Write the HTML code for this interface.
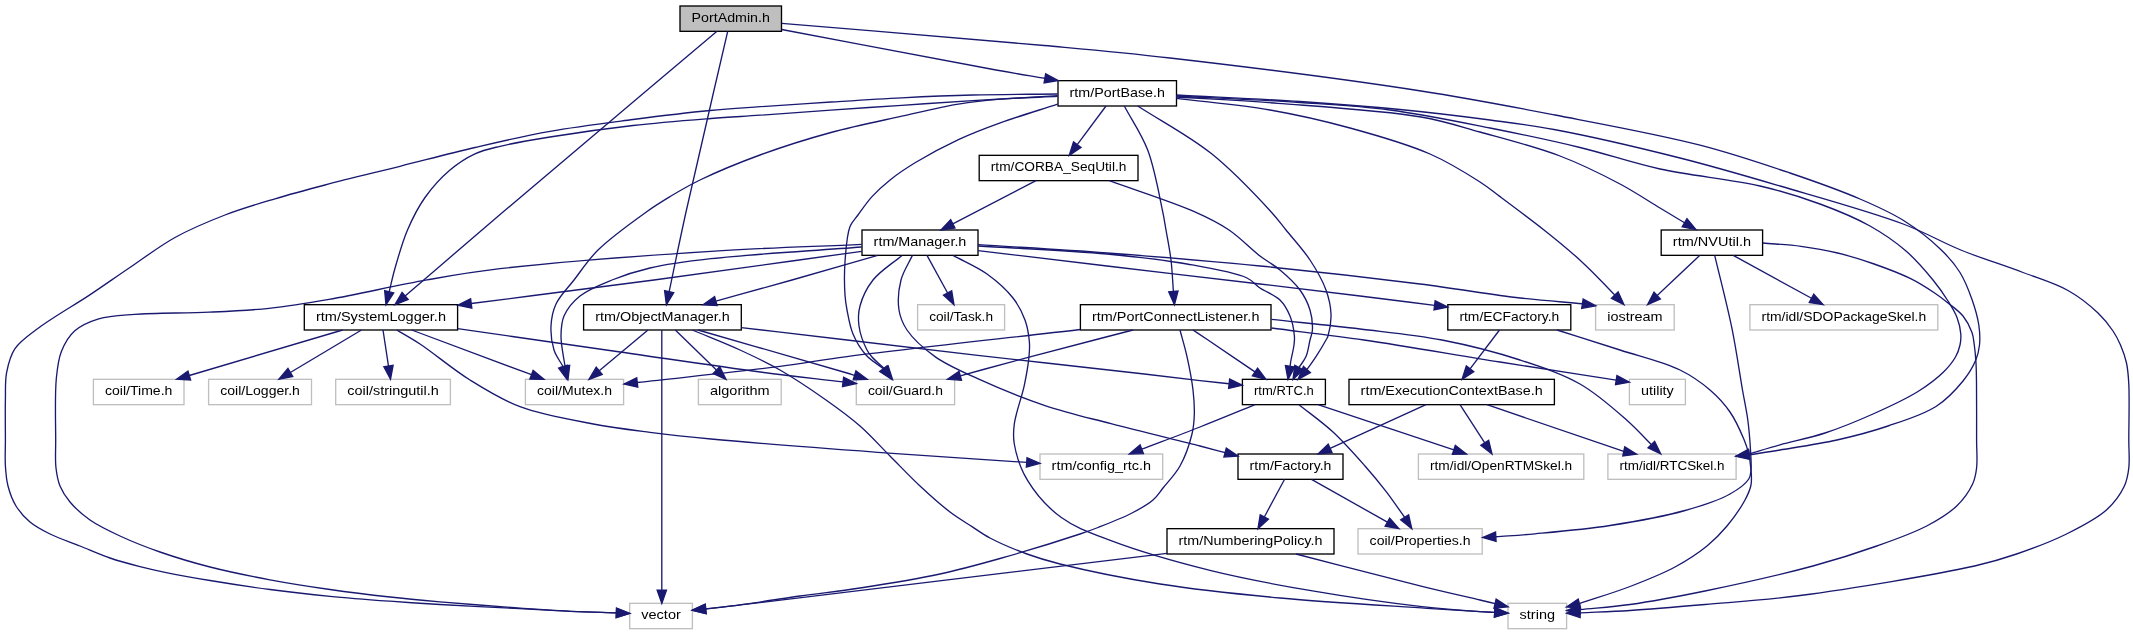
<!DOCTYPE html>
<html><head><meta charset="utf-8"><title>PortAdmin.h include graph</title>
<style>html,body{margin:0;padding:0;background:#fff}svg{display:block;will-change:transform}text{font-family:"Liberation Sans",sans-serif;font-size:13.6px;fill:#000}</style></head><body>
<svg width="2133" height="635" viewBox="0 0 2133 635">
<rect width="2133" height="635" fill="#fff"/>
<g stroke-width="1.333">
<rect x="680.00" y="6.00" width="101.50" height="25.33" fill="#bfbfbf" stroke="#000"/>
<rect x="1058.00" y="80.67" width="118.50" height="25.33" fill="#fff" stroke="#000"/>
<rect x="979.20" y="155.33" width="158.80" height="25.33" fill="#fff" stroke="#000"/>
<rect x="862.00" y="230.00" width="116.00" height="25.33" fill="#fff" stroke="#000"/>
<rect x="1661.20" y="230.00" width="101.40" height="25.33" fill="#fff" stroke="#000"/>
<rect x="304.30" y="304.67" width="153.30" height="25.33" fill="#fff" stroke="#000"/>
<rect x="583.60" y="304.67" width="157.70" height="25.33" fill="#fff" stroke="#000"/>
<rect x="917.60" y="304.67" width="87.00" height="25.33" fill="#fff" stroke="#bfbfbf"/>
<rect x="1080.40" y="304.67" width="190.60" height="25.33" fill="#fff" stroke="#000"/>
<rect x="1447.80" y="304.67" width="123.00" height="25.33" fill="#fff" stroke="#000"/>
<rect x="1595.60" y="304.67" width="78.60" height="25.33" fill="#fff" stroke="#bfbfbf"/>
<rect x="1749.90" y="304.67" width="187.90" height="25.33" fill="#fff" stroke="#bfbfbf"/>
<rect x="93.40" y="379.33" width="90.60" height="25.33" fill="#fff" stroke="#bfbfbf"/>
<rect x="208.60" y="379.33" width="102.90" height="25.33" fill="#fff" stroke="#bfbfbf"/>
<rect x="335.70" y="379.33" width="114.70" height="25.33" fill="#fff" stroke="#bfbfbf"/>
<rect x="525.40" y="379.33" width="98.20" height="25.33" fill="#fff" stroke="#bfbfbf"/>
<rect x="698.40" y="379.33" width="82.80" height="25.33" fill="#fff" stroke="#bfbfbf"/>
<rect x="856.30" y="379.33" width="98.30" height="25.33" fill="#fff" stroke="#bfbfbf"/>
<rect x="1242.40" y="379.33" width="83.00" height="25.33" fill="#fff" stroke="#000"/>
<rect x="1349.00" y="379.33" width="205.40" height="25.33" fill="#fff" stroke="#000"/>
<rect x="1629.40" y="379.33" width="56.00" height="25.33" fill="#fff" stroke="#bfbfbf"/>
<rect x="1040.00" y="454.00" width="122.70" height="25.33" fill="#fff" stroke="#bfbfbf"/>
<rect x="1238.00" y="454.00" width="105.00" height="25.33" fill="#fff" stroke="#000"/>
<rect x="1418.40" y="454.00" width="165.40" height="25.33" fill="#fff" stroke="#bfbfbf"/>
<rect x="1607.90" y="454.00" width="128.20" height="25.33" fill="#fff" stroke="#bfbfbf"/>
<rect x="1167.00" y="528.67" width="167.00" height="25.33" fill="#fff" stroke="#000"/>
<rect x="1358.00" y="528.67" width="124.20" height="25.33" fill="#fff" stroke="#bfbfbf"/>
<rect x="629.70" y="603.33" width="62.70" height="25.33" fill="#fff" stroke="#bfbfbf"/>
<rect x="1508.00" y="603.33" width="58.60" height="25.33" fill="#fff" stroke="#bfbfbf"/>
</g>
<g text-anchor="middle">
<text x="730.75" y="22.00" textLength="78.30" lengthAdjust="spacingAndGlyphs">PortAdmin.h</text>
<text x="1117.25" y="97.00" textLength="95.30" lengthAdjust="spacingAndGlyphs">rtm/PortBase.h</text>
<text x="1058.60" y="171.00" textLength="135.60" lengthAdjust="spacingAndGlyphs">rtm/CORBA_SeqUtil.h</text>
<text x="920.00" y="246.00" textLength="92.80" lengthAdjust="spacingAndGlyphs">rtm/Manager.h</text>
<text x="1711.90" y="246.00" textLength="78.20" lengthAdjust="spacingAndGlyphs">rtm/NVUtil.h</text>
<text x="380.95" y="321.00" textLength="130.10" lengthAdjust="spacingAndGlyphs">rtm/SystemLogger.h</text>
<text x="662.45" y="321.00" textLength="134.50" lengthAdjust="spacingAndGlyphs">rtm/ObjectManager.h</text>
<text x="961.10" y="321.00" textLength="63.80" lengthAdjust="spacingAndGlyphs">coil/Task.h</text>
<text x="1175.70" y="321.00" textLength="167.40" lengthAdjust="spacingAndGlyphs">rtm/PortConnectListener.h</text>
<text x="1509.30" y="321.00" textLength="99.80" lengthAdjust="spacingAndGlyphs">rtm/ECFactory.h</text>
<text x="1634.90" y="321.00" textLength="55.40" lengthAdjust="spacingAndGlyphs">iostream</text>
<text x="1843.85" y="321.00" textLength="164.70" lengthAdjust="spacingAndGlyphs">rtm/idl/SDOPackageSkel.h</text>
<text x="138.70" y="395.00" textLength="67.40" lengthAdjust="spacingAndGlyphs">coil/Time.h</text>
<text x="260.05" y="395.00" textLength="79.70" lengthAdjust="spacingAndGlyphs">coil/Logger.h</text>
<text x="393.05" y="395.00" textLength="91.50" lengthAdjust="spacingAndGlyphs">coil/stringutil.h</text>
<text x="574.50" y="395.00" textLength="75.00" lengthAdjust="spacingAndGlyphs">coil/Mutex.h</text>
<text x="739.80" y="395.00" textLength="59.60" lengthAdjust="spacingAndGlyphs">algorithm</text>
<text x="905.45" y="395.00" textLength="75.10" lengthAdjust="spacingAndGlyphs">coil/Guard.h</text>
<text x="1283.90" y="395.00" textLength="59.80" lengthAdjust="spacingAndGlyphs">rtm/RTC.h</text>
<text x="1451.70" y="395.00" textLength="182.20" lengthAdjust="spacingAndGlyphs">rtm/ExecutionContextBase.h</text>
<text x="1657.40" y="395.00" textLength="32.80" lengthAdjust="spacingAndGlyphs">utility</text>
<text x="1101.35" y="470.00" textLength="99.50" lengthAdjust="spacingAndGlyphs">rtm/config_rtc.h</text>
<text x="1290.50" y="470.00" textLength="81.80" lengthAdjust="spacingAndGlyphs">rtm/Factory.h</text>
<text x="1501.10" y="470.00" textLength="142.20" lengthAdjust="spacingAndGlyphs">rtm/idl/OpenRTMSkel.h</text>
<text x="1672.00" y="470.00" textLength="105.00" lengthAdjust="spacingAndGlyphs">rtm/idl/RTCSkel.h</text>
<text x="1250.50" y="545.00" textLength="143.80" lengthAdjust="spacingAndGlyphs">rtm/NumberingPolicy.h</text>
<text x="1420.10" y="545.00" textLength="101.00" lengthAdjust="spacingAndGlyphs">coil/Properties.h</text>
<text x="661.05" y="619.00" textLength="39.50" lengthAdjust="spacingAndGlyphs">vector</text>
<text x="1537.30" y="619.00" textLength="35.40" lengthAdjust="spacingAndGlyphs">string</text>
</g>
<g fill="none" stroke="#191970" stroke-width="1.333">
<path d="M717.00,31.30 C645.67,91.53 560.48,163.07 503.00,212.00 C463.99,245.21 437.74,268.01 405.12,296.02"/>
<path d="M727.70,31.30 C713.80,91.53 696.64,163.89 686.00,212.00 C678.95,243.88 674.77,265.10 669.16,291.66"/>
<path d="M781.70,29.50 C853.13,43.00 949.81,61.72 996.00,70.00 C1018.02,73.94 1028.57,75.52 1044.85,78.27"/>
<path d="M781.70,23.30 C869.13,30.70 972.44,38.92 1044.00,45.50 C1093.63,50.06 1120.89,52.34 1170.00,58.00 C1239.45,66.01 1350.46,80.05 1421.00,91.00 C1472.73,99.03 1509.51,106.21 1555.00,115.00 C1602.44,124.17 1657.63,134.16 1700.00,145.10 C1733.80,153.82 1762.00,163.47 1790.00,173.00 C1814.92,181.48 1839.66,190.24 1860.00,199.00 C1876.33,206.04 1889.66,211.81 1903.20,220.30 C1916.76,228.80 1931.24,240.25 1941.30,250.00 C1949.13,257.59 1954.89,264.27 1960.00,272.50 C1965.13,280.77 1968.82,290.50 1972.00,299.50 C1975.00,308.00 1977.60,316.95 1978.80,325.00 C1979.84,332.01 1980.14,338.85 1979.50,345.00 C1978.94,350.40 1977.98,354.76 1975.80,360.00 C1973.05,366.61 1968.64,374.04 1963.00,381.00 C1956.07,389.56 1947.08,399.37 1936.00,406.50 C1922.91,414.92 1904.41,420.44 1888.00,426.00 C1871.42,431.62 1854.57,436.06 1837.00,440.00 C1818.62,444.12 1796.10,447.33 1780.00,450.00 C1768.19,451.95 1759.50,453.19 1749.25,454.79"/>
<path d="M1057.60,94.00 C1029.27,94.33 999.64,94.31 972.60,95.00 C947.89,95.63 925.32,96.63 901.70,97.80 C878.09,98.97 854.51,100.52 830.90,102.00 C807.27,103.48 781.57,105.17 760.00,106.70 C741.88,107.99 728.44,108.72 710.00,110.50 C687.07,112.71 659.13,116.12 633.00,119.50 C605.83,123.02 576.88,126.49 550.00,131.30 C524.28,135.90 499.95,141.68 475.00,147.50 C449.95,153.34 425.00,160.05 400.00,166.30 C375.00,172.55 347.44,179.11 325.00,185.00 C306.62,189.83 291.61,193.82 275.00,198.80 C258.28,203.81 241.49,208.64 225.00,215.00 C208.15,221.50 190.99,228.65 175.00,237.50 C158.91,246.40 143.52,258.37 128.80,268.30 C115.22,277.45 103.73,285.65 89.80,294.90 C74.02,305.38 52.41,317.61 38.90,327.80 C29.12,335.17 20.41,340.69 15.00,348.70 C10.16,355.87 8.21,364.35 6.60,372.70 C4.94,381.29 5.62,389.72 5.40,399.60 C5.13,411.70 5.40,428.01 5.40,440.00 C5.40,449.62 4.88,457.92 5.40,466.00 C5.86,473.12 6.29,479.44 8.00,486.00 C9.77,492.78 12.31,499.98 16.00,506.00 C19.66,511.98 24.50,517.41 30.00,522.00 C35.76,526.81 42.49,530.28 50.00,534.00 C58.84,538.38 70.00,542.00 80.00,546.00 C90.00,550.00 99.91,554.55 110.00,558.00 C119.91,561.39 130.42,564.14 140.00,566.60 C148.68,568.83 155.43,570.34 165.00,572.30 C177.79,574.92 193.90,577.83 210.00,580.50 C228.54,583.58 249.98,586.86 270.00,589.50 C289.98,592.13 309.98,594.35 330.00,596.30 C349.98,598.25 370.91,599.79 390.00,601.20 C407.42,602.49 421.68,603.43 440.00,604.50 C462.34,605.81 491.34,607.10 514.40,608.30 C534.45,609.35 552.82,610.51 570.60,611.30 C586.64,612.01 601.12,612.38 616.38,612.92"/>
<path d="M1057.60,95.70 C1029.27,97.33 999.65,98.92 972.60,100.60 C947.89,102.13 925.32,103.72 901.70,105.30 C878.09,106.88 854.51,108.45 830.90,110.10 C807.27,111.75 781.46,113.71 760.00,115.20 C742.16,116.44 729.21,117.07 711.00,118.50 C688.00,120.31 659.37,122.49 633.00,125.50 C605.73,128.61 574.14,133.08 550.00,137.00 C531.19,140.05 513.73,142.97 500.00,146.30 C490.16,148.68 483.08,150.06 475.00,153.80 C466.37,157.79 457.92,163.27 450.00,170.00 C441.15,177.51 432.09,187.48 425.00,197.50 C417.93,207.49 412.43,218.49 407.50,230.00 C402.35,242.03 398.23,257.04 395.00,268.30 C392.50,277.02 391.13,283.94 389.20,291.76"/>
<path d="M1057.60,96.40 C1038.70,97.33 1018.42,97.74 1000.90,99.20 C985.69,100.47 973.53,101.72 958.40,104.20 C940.80,107.09 921.63,111.80 901.70,116.20 C879.39,121.13 854.38,126.08 830.90,132.50 C807.14,138.99 782.48,146.77 760.00,155.00 C738.99,162.69 716.39,172.08 700.00,180.00 C688.10,185.75 679.28,191.04 670.00,196.60 C661.65,201.61 655.71,205.26 646.70,211.70 C633.24,221.32 610.84,237.27 598.00,250.00 C587.89,260.02 581.36,270.50 574.00,280.00 C567.50,288.39 559.82,295.76 556.00,304.00 C552.69,311.15 551.37,318.47 551.00,326.00 C550.61,333.79 551.72,342.92 554.00,350.00 C556.02,356.27 560.05,361.10 563.08,366.66"/>
<path d="M1057.60,104.20 C1038.70,110.33 1018.34,116.29 1000.90,122.60 C985.61,128.13 972.39,133.09 958.40,139.60 C944.05,146.28 928.10,154.91 915.90,162.30 C906.14,168.21 898.01,173.66 890.40,179.70 C883.55,185.14 877.48,190.59 872.00,196.60 C866.73,202.38 861.96,209.53 858.00,215.00 C854.91,219.27 852.04,221.37 850.00,226.60 C846.75,234.93 845.82,250.38 845.00,262.00 C844.22,273.17 844.41,286.16 845.00,295.00 C845.40,300.99 845.94,304.45 847.00,310.00 C848.36,317.10 849.83,326.50 853.00,334.00 C856.17,341.50 860.74,349.12 866.00,355.00 C870.98,360.57 877.61,364.13 883.42,368.69"/>
<path d="M1106.00,106.00 L1077.26,144.61"/>
<path d="M1124.30,106.00 C1132.10,120.67 1141.48,133.66 1147.70,150.00 C1154.72,168.44 1159.63,197.16 1162.70,211.70 C1164.36,219.57 1164.81,223.15 1166.00,230.00 C1167.52,238.77 1169.77,249.86 1171.00,260.00 C1172.25,270.32 1172.59,280.94 1173.39,291.41"/>
<path d="M1137.70,106.00 C1162.13,121.77 1188.60,135.46 1211.00,153.30 C1232.95,170.78 1257.92,197.45 1271.00,211.70 C1277.95,219.27 1280.44,223.13 1286.00,230.00 C1293.09,238.75 1303.20,249.68 1310.00,260.00 C1316.40,269.71 1322.49,280.31 1326.00,290.00 C1328.98,298.23 1330.73,306.15 1331.00,314.00 C1331.26,321.47 1329.34,331.68 1328.00,336.00 C1327.40,337.94 1326.97,338.24 1326.00,340.00 C1323.98,343.67 1319.35,351.47 1316.00,356.60 C1312.98,361.23 1309.95,365.19 1306.92,369.49"/>
<path d="M1176.50,98.30 C1207.67,102.20 1240.17,104.79 1270.00,110.00 C1297.83,114.86 1323.50,120.73 1350.00,128.00 C1376.84,135.36 1406.88,143.89 1430.00,154.00 C1449.08,162.35 1467.27,173.83 1480.00,182.00 C1488.37,187.37 1492.07,190.70 1500.00,196.60 C1511.85,205.42 1530.61,219.36 1544.00,230.00 C1555.63,239.24 1566.24,247.87 1576.00,256.60 C1584.73,264.41 1593.03,272.72 1600.00,279.70 C1605.58,285.29 1609.84,289.95 1614.77,295.08"/>
<path d="M1176.00,97.00 C1209.90,99.10 1240.93,100.40 1277.70,103.30 C1321.41,106.74 1383.85,110.54 1421.00,117.00 C1445.16,121.20 1458.91,126.16 1480.00,132.00 C1504.71,138.84 1535.56,146.69 1560.00,156.00 C1581.76,164.29 1602.24,174.56 1620.00,184.00 C1634.91,191.92 1648.28,200.97 1660.00,208.00 C1669.18,213.51 1676.38,217.83 1684.57,222.74"/>
<path d="M1176.50,96.00 C1217.67,98.17 1262.10,99.92 1300.00,102.50 C1332.39,104.70 1359.31,105.97 1390.00,110.00 C1422.55,114.28 1457.60,121.58 1490.00,128.00 C1520.85,134.12 1550.97,140.46 1580.00,147.50 C1607.54,154.18 1631.69,162.80 1660.00,169.00 C1691.32,175.86 1731.08,179.23 1760.00,186.00 C1782.73,191.32 1801.11,197.04 1820.00,204.00 C1837.64,210.50 1855.06,217.63 1870.00,226.00 C1883.38,233.50 1895.30,241.73 1906.00,251.00 C1916.17,259.82 1925.55,270.88 1933.00,280.00 C1939.01,287.36 1943.80,294.30 1948.00,301.00 C1951.58,306.72 1954.85,311.85 1957.00,317.50 C1959.04,322.86 1960.42,329.03 1960.80,334.00 C1961.11,338.01 1960.81,341.31 1960.00,345.00 C1959.13,348.98 1957.79,352.96 1955.50,357.00 C1952.69,361.94 1948.62,366.99 1943.50,372.00 C1936.88,378.48 1928.05,385.23 1918.00,391.50 C1905.42,399.35 1888.40,407.12 1873.00,414.00 C1857.41,420.97 1840.90,427.79 1825.00,433.00 C1809.91,437.95 1793.56,441.04 1780.00,444.80 C1768.73,447.93 1759.44,450.83 1749.16,453.84"/>
<path d="M1176.50,95.00 C1217.67,97.17 1261.02,98.92 1300.00,101.50 C1335.11,103.83 1367.57,106.31 1400.00,109.50 C1430.82,112.53 1462.58,116.37 1490.00,120.00 C1513.17,123.07 1529.19,124.86 1554.00,129.50 C1589.06,136.06 1640.54,148.02 1680.00,158.00 C1715.38,166.95 1745.00,175.70 1780.00,186.00 C1819.00,197.47 1870.16,211.50 1903.20,224.00 C1926.33,232.75 1941.07,241.99 1960.80,250.00 C1980.98,258.19 2004.00,265.26 2023.00,272.50 C2039.27,278.69 2054.93,283.16 2068.00,290.50 C2079.49,296.96 2090.05,305.45 2098.00,313.00 C2104.28,318.97 2109.08,325.18 2113.00,331.00 C2116.23,335.79 2118.32,339.94 2120.50,345.00 C2122.88,350.53 2125.12,356.69 2126.50,363.00 C2127.96,369.66 2128.33,375.30 2128.80,384.00 C2129.57,398.16 2128.80,424.54 2128.80,440.00 C2128.80,450.93 2129.79,459.75 2128.80,468.00 C2127.99,474.71 2127.30,479.87 2124.40,486.00 C2120.71,493.80 2114.48,502.70 2106.40,510.00 C2096.33,519.09 2080.85,526.87 2066.50,534.00 C2051.08,541.67 2032.65,548.51 2016.60,554.00 C2002.13,558.95 1993.55,561.71 1974.60,566.00 C1936.45,574.64 1849.51,588.98 1800.00,595.50 C1763.65,600.29 1734.81,601.90 1705.00,604.50 C1678.53,606.81 1652.48,609.08 1630.00,610.50 C1611.67,611.66 1596.69,612.05 1580.03,612.82"/>
<path d="M1036.00,180.70 L952.83,223.86"/>
<path d="M1109.30,180.70 C1137.63,191.03 1172.46,202.01 1194.30,211.70 C1208.68,218.08 1218.12,222.69 1229.00,230.00 C1240.05,237.42 1250.65,248.83 1260.00,256.00 C1267.26,261.57 1273.56,264.60 1280.00,270.00 C1286.93,275.81 1294.88,282.89 1300.00,290.00 C1304.55,296.32 1307.94,303.15 1310.00,310.00 C1311.95,316.50 1312.72,324.50 1312.40,330.00 C1312.17,333.93 1310.90,336.25 1310.00,340.00 C1308.84,344.84 1308.06,351.80 1306.00,356.60 C1304.21,360.78 1301.31,363.85 1298.96,367.47"/>
<path d="M861.70,244.30 C811.47,246.63 765.42,247.79 711.00,251.30 C646.54,255.45 552.02,262.57 500.00,268.70 C469.28,272.32 453.07,275.31 427.00,279.90 C396.68,285.24 357.73,294.41 329.00,299.40 C306.61,303.29 289.00,306.16 269.00,308.30 C249.17,310.42 230.48,311.22 209.50,312.20 C185.98,313.30 155.00,312.74 134.60,314.30 C120.43,315.38 109.21,315.60 98.70,318.80 C89.66,321.55 81.09,325.16 74.80,330.80 C68.74,336.24 64.38,343.95 61.30,351.70 C58.07,359.84 57.35,367.83 56.30,378.70 C54.73,394.95 55.69,423.52 55.70,440.00 C55.71,451.14 55.05,459.74 56.00,468.00 C56.77,474.71 57.69,480.36 60.00,486.00 C62.34,491.70 65.64,496.81 70.00,502.00 C75.20,508.20 82.28,514.59 90.00,520.00 C98.67,526.08 109.13,530.95 120.00,536.00 C132.23,541.69 145.81,547.04 160.00,552.00 C175.62,557.46 192.48,562.51 210.00,567.00 C229.00,571.87 249.95,576.04 270.00,579.80 C289.95,583.54 309.97,586.63 330.00,589.50 C349.97,592.36 370.90,594.89 390.00,597.00 C407.41,598.92 421.68,600.19 440.00,601.80 C462.34,603.76 491.33,606.05 514.40,607.70 C534.44,609.14 552.82,610.42 570.60,611.30 C586.63,612.10 601.12,612.38 616.38,612.92"/>
<path d="M861.70,251.30 C792.47,260.87 721.04,271.06 654.00,280.00 C591.15,288.38 532.15,295.67 471.22,303.50"/>
<path d="M861.70,247.00 C811.47,250.90 750.00,254.22 711.00,258.70 C686.08,261.56 667.80,263.86 650.00,268.00 C635.70,271.33 623.94,275.16 612.00,280.00 C600.68,284.58 588.30,289.29 580.00,296.00 C572.97,301.68 567.11,308.89 564.00,316.00 C561.24,322.32 561.09,329.02 561.00,336.00 C560.91,343.63 563.19,354.56 564.00,360.00 C564.42,362.81 564.74,364.26 565.11,366.38"/>
<path d="M877.70,255.30 C849.13,263.53 819.74,272.15 792.00,280.00 C765.89,287.39 741.23,294.09 715.85,301.13"/>
<path d="M902.00,255.40 C892.33,263.60 880.15,270.89 873.00,280.00 C866.75,287.97 862.18,297.68 860.00,306.00 C858.19,312.91 858.06,319.12 859.00,326.00 C860.06,333.73 864.21,344.53 867.00,350.00 C868.63,353.19 869.80,354.49 872.00,357.00 C875.09,360.54 880.28,364.80 884.42,368.69"/>
<path d="M927.00,255.40 L947.60,293.01"/>
<path d="M912.40,255.40 C908.60,263.60 903.26,271.17 901.00,280.00 C898.62,289.30 897.60,301.15 899.00,310.00 C900.19,317.49 902.49,323.35 907.00,330.00 C913.03,338.90 924.05,348.80 935.00,356.60 C947.22,365.30 961.69,371.38 977.70,378.70 C997.25,387.64 1021.88,397.76 1044.30,405.30 C1066.32,412.71 1087.13,417.42 1111.00,423.70 C1138.49,430.94 1179.43,440.72 1200.00,446.00 C1210.94,448.81 1216.74,450.40 1225.11,452.61"/>
<path d="M953.00,255.40 C964.33,261.60 976.82,266.69 987.00,274.00 C996.72,280.99 1006.46,289.61 1013.00,298.00 C1018.51,305.06 1022.26,312.45 1025.00,320.00 C1027.59,327.14 1028.84,335.39 1029.40,342.00 C1029.85,347.34 1029.54,350.94 1029.00,356.60 C1028.24,364.59 1026.45,375.07 1024.30,385.30 C1021.77,397.29 1015.68,413.14 1014.30,424.00 C1013.32,431.69 1012.97,436.46 1014.30,444.00 C1016.16,454.53 1020.69,469.12 1027.70,480.70 C1035.58,493.73 1047.62,507.44 1061.00,517.30 C1075.13,527.71 1091.15,533.12 1111.00,540.70 C1138.30,551.12 1177.47,562.34 1211.00,570.70 C1244.14,578.97 1276.71,584.80 1311.00,590.70 C1346.95,596.88 1390.91,603.12 1422.00,606.70 C1444.40,609.28 1467.05,610.82 1480.00,611.70 C1486.51,612.14 1489.79,612.19 1494.69,612.44"/>
<path d="M978.00,246.00 C1021.00,248.67 1069.16,250.47 1107.00,254.00 C1136.89,256.79 1162.35,259.60 1187.00,264.00 C1208.54,267.85 1234.65,272.15 1247.00,278.00 C1253.37,281.02 1255.09,284.66 1260.00,288.00 C1265.85,291.99 1274.89,294.98 1280.00,300.00 C1284.59,304.51 1287.61,310.14 1290.00,316.00 C1292.49,322.10 1293.94,330.62 1294.40,336.00 C1294.71,339.57 1294.41,341.64 1294.00,345.00 C1293.47,349.38 1291.70,356.08 1291.00,360.00 C1290.55,362.52 1290.35,364.15 1290.03,366.22"/>
<path d="M978.00,250.60 C1021.00,255.73 1062.16,260.69 1107.00,266.00 C1155.82,271.79 1214.40,278.58 1260.00,284.00 C1296.87,288.38 1329.11,292.21 1360.00,296.00 C1386.68,299.27 1409.71,302.23 1434.57,305.34"/>
<path d="M978.00,244.60 C1021.00,247.40 1062.18,249.64 1107.00,253.00 C1155.84,256.66 1208.46,260.91 1260.00,266.00 C1312.77,271.21 1372.94,278.06 1420.00,284.00 C1457.27,288.70 1490.54,294.59 1520.00,298.00 C1543.21,300.69 1561.62,301.82 1582.43,303.73"/>
<path d="M1699.90,255.30 L1657.20,295.55"/>
<path d="M1733.20,255.30 L1811.51,298.28"/>
<path d="M1714.70,255.30 C1720.47,279.77 1727.24,305.26 1732.00,328.70 C1736.33,349.98 1739.57,373.18 1742.50,390.00 C1744.55,401.77 1746.47,409.97 1747.80,420.00 C1749.13,429.97 1749.98,441.00 1750.50,450.00 C1750.92,457.33 1751.57,464.68 1751.00,470.00 C1750.61,473.62 1750.74,475.96 1748.80,479.00 C1745.67,483.90 1738.07,489.46 1730.00,494.00 C1718.60,500.41 1702.12,505.68 1685.00,510.50 C1663.38,516.59 1635.09,521.61 1610.00,525.50 C1585.08,529.36 1555.99,531.85 1535.00,533.80 C1519.85,535.21 1508.87,535.76 1495.81,536.74"/>
<path d="M1762.80,243.00 C1775.53,244.10 1788.44,244.61 1801.00,246.30 C1813.37,247.96 1825.49,250.08 1837.60,253.00 C1849.86,255.96 1862.02,259.76 1874.10,264.00 C1886.39,268.31 1899.93,273.35 1910.70,278.70 C1919.83,283.24 1928.25,288.77 1935.00,293.30 C1940.11,296.73 1943.58,299.44 1948.00,303.00 C1952.89,306.94 1958.97,311.00 1963.00,316.00 C1966.92,320.87 1970.13,327.24 1972.00,332.50 C1973.53,336.83 1973.67,340.44 1974.30,345.00 C1975.06,350.44 1975.63,356.87 1976.00,363.00 C1976.38,369.36 1976.39,374.28 1976.50,382.50 C1976.69,396.61 1976.59,424.24 1976.60,440.00 C1976.61,450.99 1977.58,460.02 1976.60,468.00 C1975.85,474.13 1975.16,478.50 1972.60,484.00 C1969.32,491.06 1963.57,499.39 1956.70,506.00 C1948.78,513.62 1938.33,519.88 1926.70,526.00 C1912.50,533.48 1894.59,539.66 1876.80,546.00 C1856.94,553.07 1837.12,559.42 1812.90,566.00 C1781.76,574.47 1737.78,584.26 1705.00,591.00 C1677.81,596.59 1652.53,601.34 1630.00,604.50 C1611.70,607.07 1596.67,607.87 1580.00,609.55"/>
<path d="M342.60,330.00 L189.28,375.51"/>
<path d="M361.50,330.00 L290.35,372.47"/>
<path d="M383.00,330.00 L388.49,366.12"/>
<path d="M411.70,330.00 L531.51,374.74"/>
<path d="M457.60,328.60 C511.80,336.40 568.02,344.52 620.20,352.00 C668.64,358.94 719.68,366.67 760.30,372.00 C791.47,376.09 815.47,378.61 843.06,381.91"/>
<path d="M396.70,330.00 C404.47,334.67 410.91,338.01 420.00,344.00 C433.68,353.01 452.97,369.39 470.00,380.00 C486.33,390.18 501.23,399.61 520.00,406.70 C541.64,414.87 570.34,419.62 593.30,424.00 C613.32,427.82 630.73,429.83 650.00,432.30 C669.94,434.85 685.64,436.60 711.00,439.00 C752.87,442.97 823.68,448.31 877.70,452.30 C928.75,456.07 977.03,459.03 1026.70,462.40"/>
<path d="M648.00,330.00 L599.22,370.84"/>
<path d="M661.80,330.00 L661.80,590.07"/>
<path d="M675.30,330.00 L716.45,370.10"/>
<path d="M698.00,330.00 C747.67,344.33 828.74,367.53 847.00,373.00 C851.13,374.24 852.04,374.57 854.57,375.35"/>
<path d="M692.30,330.00 C708.20,336.67 724.91,343.07 740.00,350.00 C754.03,356.44 766.43,362.22 780.00,370.00 C795.04,378.63 811.99,390.10 826.00,400.00 C838.37,408.74 849.31,416.64 860.00,426.00 C870.64,435.32 880.00,446.00 890.00,456.00 C900.00,466.00 909.83,476.53 920.00,486.00 C929.84,495.16 940.56,504.82 950.00,512.00 C957.70,517.86 965.01,522.07 972.00,526.60 C978.28,530.67 982.75,534.17 990.00,538.00 C999.97,543.27 1014.90,549.57 1027.00,554.00 C1038.20,558.10 1045.92,560.47 1060.00,564.00 C1084.22,570.08 1125.03,578.47 1160.00,584.00 C1198.06,590.02 1237.92,594.07 1280.00,598.00 C1326.47,602.34 1390.23,605.83 1427.00,608.30 C1449.07,609.78 1467.81,611.00 1480.00,611.70 C1486.41,612.07 1489.79,612.19 1494.69,612.44"/>
<path d="M741.30,327.60 C776.53,331.73 809.90,335.65 847.00,340.00 C888.26,344.83 931.49,350.00 977.70,355.30 C1029.86,361.28 1103.61,369.31 1144.30,374.00 C1167.83,376.72 1184.41,378.83 1200.00,380.60 C1211.27,381.88 1219.43,382.71 1229.14,383.76"/>
<path d="M1080.40,329.50 C1002.60,338.53 901.25,349.49 847.00,356.60 C817.88,360.42 806.54,362.96 780.00,366.40 C741.34,371.41 684.83,377.14 637.25,382.51"/>
<path d="M1133.00,330.00 C1099.00,338.87 1061.88,348.38 1031.00,356.60 C1005.25,363.45 983.84,369.40 960.27,375.81"/>
<path d="M1180.00,330.00 C1182.33,338.87 1184.92,347.19 1187.00,356.60 C1189.31,367.06 1191.80,379.64 1193.00,390.00 C1194.03,398.90 1194.57,407.25 1194.30,415.00 C1194.07,421.78 1193.72,426.96 1192.00,434.00 C1189.70,443.41 1185.20,456.67 1180.00,466.00 C1175.31,474.42 1167.97,481.81 1163.00,488.00 C1159.28,492.64 1157.32,496.25 1153.00,500.00 C1147.56,504.72 1140.02,508.84 1132.00,513.00 C1122.19,518.09 1107.59,523.73 1098.00,527.50 C1091.10,530.22 1088.19,531.27 1080.00,534.00 C1062.89,539.71 1024.82,551.50 1000.00,558.50 C978.64,564.53 961.54,569.34 940.00,574.00 C915.35,579.33 884.79,584.18 860.00,588.00 C838.60,591.30 820.76,593.10 800.00,596.00 C777.56,599.13 747.32,603.99 730.00,606.20 C719.81,607.50 713.78,607.98 705.67,608.87"/>
<path d="M1193.00,330.00 C1198.00,333.33 1201.62,335.71 1208.00,340.00 C1219.32,347.62 1239.31,361.27 1254.97,371.91"/>
<path d="M1271.40,328.00 C1302.27,332.00 1330.22,335.08 1364.00,340.00 C1405.03,345.98 1456.44,355.08 1500.00,362.00 C1540.25,368.40 1577.48,374.10 1616.23,380.14"/>
<path d="M1271.40,319.40 C1300.93,322.60 1331.06,325.49 1360.00,329.00 C1387.88,332.38 1415.16,334.78 1442.00,340.00 C1468.48,345.15 1495.94,352.14 1520.00,360.00 C1541.56,367.04 1561.91,373.66 1580.00,384.00 C1597.27,393.87 1613.79,408.76 1626.60,420.00 C1636.46,428.65 1643.10,436.40 1651.34,444.60"/>
<path d="M1499.50,330.00 L1470.06,368.78"/>
<path d="M1557.00,330.00 C1578.00,336.67 1599.28,343.26 1620.00,350.00 C1640.27,356.59 1663.85,362.10 1680.00,370.00 C1692.19,375.96 1701.39,382.59 1710.00,390.00 C1717.82,396.72 1724.37,403.84 1730.00,412.00 C1735.74,420.31 1740.80,431.85 1744.00,439.50 C1746.18,444.70 1747.35,448.19 1748.50,453.00 C1749.76,458.29 1750.60,464.50 1751.00,470.00 C1751.38,475.14 1751.95,480.09 1751.00,485.00 C1750.02,490.10 1747.95,494.50 1745.00,500.00 C1740.87,507.69 1733.54,518.16 1727.00,526.00 C1720.82,533.41 1714.82,539.63 1707.00,546.00 C1697.90,553.41 1686.88,560.59 1675.00,567.00 C1661.55,574.26 1645.57,580.51 1630.00,586.50 C1613.75,592.75 1596.26,597.90 1579.39,603.61"/>
<path d="M1426.00,404.70 L1330.13,448.46"/>
<path d="M1460.00,404.70 L1484.74,442.82"/>
<path d="M1487.00,404.70 L1623.77,451.39"/>
<path d="M1255.00,404.70 C1236.67,412.13 1218.63,419.67 1200.00,427.00 C1180.90,434.52 1161.17,441.83 1141.76,449.24"/>
<path d="M1299.00,404.70 C1310.33,413.80 1322.17,421.99 1333.00,432.00 C1344.21,442.36 1355.60,455.35 1365.00,466.00 C1372.90,474.95 1379.35,482.76 1386.00,491.40 C1392.56,499.91 1398.45,508.76 1404.67,517.43"/>
<path d="M1318.00,404.70 L1453.85,449.80"/>
<path d="M1284.60,479.30 L1264.32,516.96"/>
<path d="M1311.50,479.30 L1387.39,522.15"/>
<path d="M1167.00,553.30 C1021.33,570.93 785.63,599.78 730.00,606.20 C716.88,607.71 713.78,607.98 705.67,608.87"/>
<path d="M1296.00,554.00 C1338.00,564.77 1388.01,577.93 1422.00,586.30 C1445.00,591.97 1466.96,596.88 1480.00,600.00 C1486.65,601.59 1490.03,602.44 1495.04,603.65"/>
</g>
<g fill="#191970" stroke="#191970" stroke-width="1.333">
<polygon points="395.00,304.70 402.08,292.47 408.16,299.56"/>
<polygon points="666.40,304.70 664.59,290.69 673.72,292.62"/>
<polygon points="1058.00,80.50 1044.07,82.88 1045.63,73.67"/>
<polygon points="1736.00,456.30 1748.72,450.15 1749.78,459.42"/>
<polygon points="629.70,613.40 616.21,617.59 616.54,608.26"/>
<polygon points="386.00,304.70 384.67,290.64 393.73,292.88"/>
<polygon points="567.00,379.40 558.62,368.03 567.54,365.28"/>
<polygon points="891.50,379.30 879.71,371.52 887.13,365.87"/>
<polygon points="1069.30,155.30 1073.52,141.82 1081.01,147.39"/>
<polygon points="1174.40,304.70 1168.74,291.76 1178.04,291.05"/>
<polygon points="1298.00,379.40 1303.45,366.37 1310.39,372.61"/>
<polygon points="1624.00,304.70 1611.40,298.31 1618.13,291.85"/>
<polygon points="1696.00,229.60 1682.17,226.74 1686.97,218.74"/>
<polygon points="1736.00,456.00 1748.40,449.23 1749.91,458.44"/>
<polygon points="1566.70,613.20 1579.89,608.15 1580.16,617.48"/>
<polygon points="941.00,230.00 950.68,219.72 954.98,228.00"/>
<polygon points="1293.00,379.40 1294.79,365.39 1303.14,369.56"/>
<polygon points="629.70,613.40 616.21,617.59 616.54,608.26"/>
<polygon points="458.00,305.20 470.63,298.87 471.82,308.13"/>
<polygon points="568.00,379.40 560.55,367.40 569.66,365.37"/>
<polygon points="703.00,304.70 714.60,296.64 717.10,305.63"/>
<polygon points="892.50,379.30 880.71,371.52 888.13,365.87"/>
<polygon points="954.00,304.70 943.50,295.25 951.69,290.76"/>
<polygon points="1238.00,456.00 1223.92,457.12 1226.29,448.09"/>
<polygon points="1508.00,613.20 1494.42,617.10 1494.95,607.78"/>
<polygon points="1288.00,379.40 1285.41,365.51 1294.64,366.93"/>
<polygon points="1447.80,307.00 1433.99,309.97 1435.15,300.71"/>
<polygon points="1595.60,305.80 1581.70,308.34 1583.15,299.12"/>
<polygon points="1647.50,304.70 1654.00,292.16 1660.40,298.95"/>
<polygon points="1823.20,304.70 1809.27,302.38 1813.76,294.19"/>
<polygon points="1482.50,537.50 1495.55,532.08 1496.08,541.40"/>
<polygon points="1566.70,610.50 1579.67,604.89 1580.33,614.21"/>
<polygon points="176.50,379.30 187.95,371.03 190.61,379.98"/>
<polygon points="278.90,379.30 287.96,368.46 292.74,376.47"/>
<polygon points="390.50,379.30 383.88,366.82 393.11,365.42"/>
<polygon points="544.00,379.40 529.88,379.11 533.14,370.36"/>
<polygon points="856.30,383.50 842.51,386.55 843.62,377.28"/>
<polygon points="1040.00,463.30 1026.38,467.05 1027.01,457.74"/>
<polygon points="589.00,379.40 596.23,367.26 602.22,374.42"/>
<polygon points="661.80,603.40 657.13,590.07 666.47,590.07"/>
<polygon points="726.00,379.40 713.19,373.44 719.71,366.75"/>
<polygon points="867.30,379.30 853.18,379.81 855.95,370.89"/>
<polygon points="1508.00,613.20 1494.42,617.10 1494.95,607.78"/>
<polygon points="1242.40,385.20 1228.64,388.40 1229.65,379.12"/>
<polygon points="624.00,384.00 636.73,377.87 637.77,387.14"/>
<polygon points="947.40,379.30 959.04,371.30 961.49,380.31"/>
<polygon points="692.40,610.20 705.20,604.23 706.13,613.52"/>
<polygon points="1266.00,379.40 1252.35,375.77 1257.59,368.05"/>
<polygon points="1629.40,382.20 1615.51,384.75 1616.95,375.53"/>
<polygon points="1660.80,454.00 1648.05,447.91 1654.63,441.29"/>
<polygon points="1462.00,379.40 1466.34,365.96 1473.78,371.60"/>
<polygon points="1566.50,607.00 1578.21,599.09 1580.58,608.12"/>
<polygon points="1318.00,454.00 1328.19,444.22 1332.07,452.71"/>
<polygon points="1492.00,454.00 1480.83,445.36 1488.66,440.28"/>
<polygon points="1636.80,454.20 1622.78,455.95 1624.75,446.83"/>
<polygon points="1129.30,454.00 1140.09,444.88 1143.42,453.60"/>
<polygon points="1411.80,528.70 1400.72,519.93 1408.61,514.94"/>
<polygon points="1466.50,454.00 1452.38,454.23 1455.32,445.37"/>
<polygon points="1258.00,528.70 1260.21,514.75 1268.43,519.17"/>
<polygon points="1399.00,528.70 1385.10,526.21 1389.68,518.08"/>
<polygon points="692.40,610.20 705.20,604.23 706.13,613.52"/>
<polygon points="1508.00,606.80 1493.94,608.19 1496.15,599.12"/>
</g>
</svg></body></html>
